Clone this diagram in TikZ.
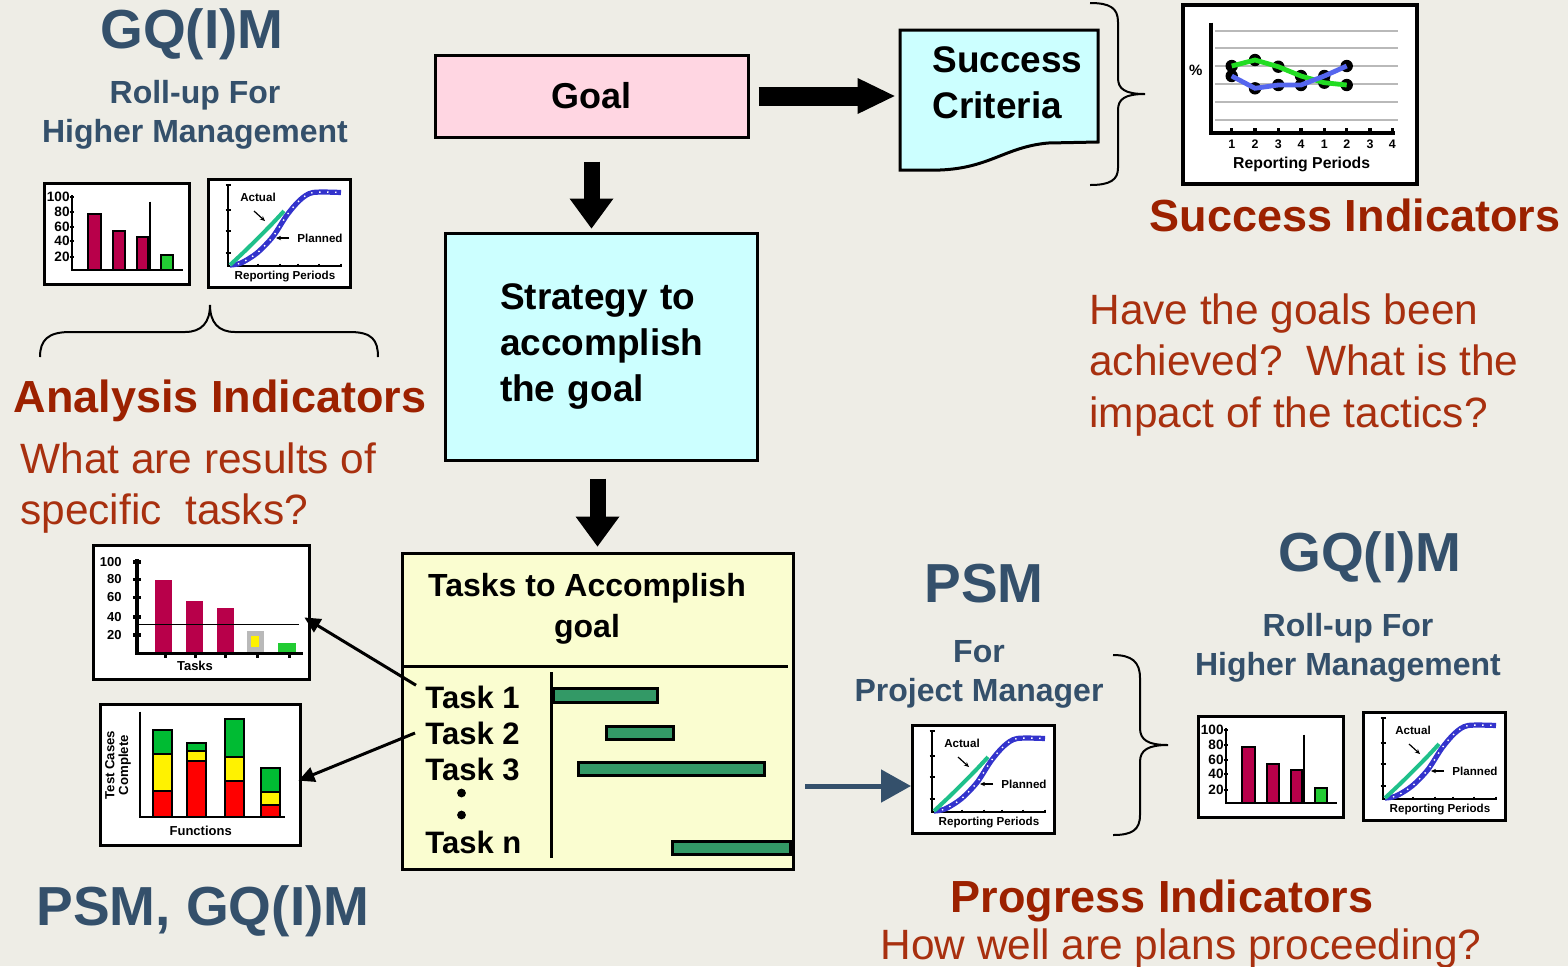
\documentclass[tikz,border=0pt]{standalone}
\usepackage{fontspec}
\setmainfont{Liberation Sans}
\usetikzlibrary{arrows.meta}
\definecolor{bgcol}{HTML}{EEEDE6}
\definecolor{titleblue}{HTML}{34506B}
\definecolor{indred}{HTML}{9C2100}
\definecolor{askred}{HTML}{A8300F}
\definecolor{goalpink}{HTML}{FFD6E2}
\definecolor{stratcyan}{HTML}{CCFFFF}
\definecolor{taskyellow}{HTML}{FAFDD0}
\definecolor{barcrimson}{HTML}{B8004A}
\definecolor{bargreen}{HTML}{22CC33}
\definecolor{stackgreen}{HTML}{00BB33}
\definecolor{gantgreen}{HTML}{339966}
\definecolor{actualgreen}{HTML}{1FC08A}
\definecolor{plannedblue}{HTML}{3333CC}
\definecolor{succgreen}{HTML}{22DD22}
\definecolor{succblue}{HTML}{5566EE}

\newcommand{\linechart}[2]{%
\begin{scope}[shift={#1}]
\node (#2) [chartbox, minimum width=71pt, minimum height=54pt] at (0,0) {};
\draw[chartaxis] (21,7) -- (21,88) -- (135,88);
\foreach \t in {7,32,53,75} \draw[chartaxis] (18.5,\t) -- (23.5,\t);
\foreach \t in {32,51,73,91,112,134} \draw[chartaxis] (\t,85.5) -- (\t,89);
\draw[planned] plot[smooth] coordinates {(23,87) (34,85) (50,75) (66,58.5) (80,37) (93,22) (106,14.5) (134,14.5)};
\draw[planneddots] plot[smooth] coordinates {(23,87) (34,85) (50,75) (66,58.5) (80,37) (93,22) (106,14.5) (134,14.5)};
\draw[actual] plot[smooth] coordinates {(23,87) (40,71) (63,48) (77,33)};
\node (#2act) [tinylabel] at (51,19) {Actual};
\draw[tinyarrow] (47,33) -- (58,43);
\node (#2plan) [tinylabel] at (113,60) {Planned};
\draw[tinyarrow] (82,60) -- (69,60);
\node (#2x) [tinylabel] at (78,99) {Reporting Periods};
\end{scope}}

\newcommand{\barchart}[2]{%
\begin{scope}[shift={#1}]
\node (#2) [chartbox, minimum width=72.5pt, minimum height=50.5pt] at (0,0) {};
\foreach \v/\t [count=\i] in {100/14.7,80/29.7,60/44.7,40/59,20/74.7} {
  \draw[chartaxis] (26.5,\t) -- (31,\t);
  \node (#2y\i) [tinynum] at (27,\t) {\v};
}
\draw[crimsonbar] (45.3,88) rectangle (57.7,32.3);
\draw[crimsonbar] (69.7,88) rectangle (82,49);
\draw[crimsonbar] (93.7,88) rectangle (105.3,55);
\draw[greenbar] (117.7,88) rectangle (130.3,73);
\draw[chartaxis] (107,19.7) -- (107,88);
\draw[chartaxis] (28.7,13) -- (28.7,88) -- (140,88);
\end{scope}}

\begin{document}
\begin{tikzpicture}[x=0.5pt,y=-0.5pt]
\tikzstyle{bigtitle} = [font=\fontsize{27.5}{30}\selectfont\bfseries, text=titleblue, inner sep=0, yshift=-2pt]
\tikzstyle{rollup} = [font=\fontsize{16}{19.5}\selectfont\bfseries, text=titleblue, align=center, inner sep=0, yshift=-2pt]
\tikzstyle{indicator} = [font=\fontsize{22.5}{25}\selectfont\bfseries, text=indred, inner sep=0, yshift=-2pt]
\tikzstyle{question} = [font=\fontsize{21.2}{25.8}\selectfont, text=askred, align=left, inner sep=0, yshift=-2pt]
\tikzstyle{goalbox} = [rectangle, draw=black, line width=1.5pt, fill=goalpink, minimum width=156.5pt, minimum height=41pt, font=\fontsize{18}{22}\selectfont\bfseries]
\tikzstyle{stratbox} = [rectangle, draw=black, line width=1.5pt, fill=stratcyan, minimum width=156pt, minimum height=113.5pt, text width=101pt, align=left, font=\fontsize{18.5}{23}\selectfont\bfseries]
\tikzstyle{critshape} = [draw=black, line width=1.5pt, fill=stratcyan]
\tikzstyle{critlabel} = [font=\fontsize{18.5}{23}\selectfont\bfseries, align=left, inner sep=0]
\tikzstyle{taskbox} = [rectangle, draw=black, line width=1.5pt, fill=taskyellow, minimum width=195.5pt, minimum height=158pt]
\tikzstyle{tasktitle} = [font=\fontsize{16}{20.5}\selectfont\bfseries, align=center, inner sep=0, yshift=-2pt]
\tikzstyle{tasklabel} = [font=\fontsize{15.5}{18}\selectfont\bfseries, inner sep=0, anchor=west]
\tikzstyle{divider} = [draw=black, line width=1.5pt]
\tikzstyle{ganttbar} = [draw=black, line width=1.5pt, fill=gantgreen]
\tikzstyle{chartbox} = [rectangle, draw=black, line width=1.6pt, fill=white, inner sep=0, anchor=north west]
\tikzstyle{chartaxis} = [draw=black, line width=1.2pt]
\tikzstyle{tinylabel} = [font=\fontsize{5.8}{6.5}\selectfont\bfseries, inner sep=0]
\tikzstyle{tinynum} = [font=\fontsize{6.8}{7}\selectfont\bfseries, inner sep=0, anchor=east]
\tikzstyle{crimsonbar} = [draw=black, line width=1pt, fill=barcrimson]
\tikzstyle{greenbar} = [draw=black, line width=1pt, fill=bargreen]
\tikzstyle{stackbar} = [draw=black, line width=1pt]
\tikzstyle{planned} = [draw=plannedblue, line width=2.6pt]
\tikzstyle{planneddots} = [draw=white, line width=0.7pt, dash pattern=on 0.7pt off 3.3pt]
\tikzstyle{actual} = [draw=actualgreen, line width=2pt]
\tikzstyle{tinyarrow} = [draw=black, line width=0.6pt, -{Stealth[length=2.5pt,width=2.2pt]}]
\tikzstyle{fatarrow} = [draw=black, line width=9.5pt, -{Triangle[length=18.5pt,width=18pt,line width=0pt]}]
\tikzstyle{fatdown} = [draw=black, line width=8pt, -{Triangle[length=15pt,width=22pt,line width=0pt]}]
\tikzstyle{taskarrow} = [draw=black, line width=1.5pt, -{Triangle[length=8pt,width=7.5pt]}]
\tikzstyle{pmarrow} = [draw=titleblue, line width=2.5pt, -{Triangle[length=15pt,width=16pt]}]
\tikzstyle{bracecurve} = [draw=black, line width=1pt]

\useasboundingbox (0,0) rectangle (1568,966);
\fill[bgcol] (0,0) rectangle (1568,966);

\node (gqimTL) [bigtitle] at (192,30) {GQ(I)M};
\node (rollupTL) [rollup] at (195,111) {Roll-up For\\Higher Management};
\barchart{(43,182)}{barTL}
\linechart{(207,178)}{lineTL}
\draw[bracecurve] (40,357) .. controls (40,340) and (48,332) .. (70,332) -- (185,332) .. controls (202,332) and (210,322) .. (210,305) .. controls (210,322) and (218,332) .. (235,332) -- (350,332) .. controls (372,332) and (378,340) .. (378,357);
\node (analysis) [indicator] at (220,397) {Analysis Indicators};
\node (analysisq) [question, anchor=west] at (20,484) {What are results of\\specific\ \ tasks?};

\node (goal) [goalbox] at (591.5,96) {Goal};
\node (crit) [minimum width=99pt, minimum height=70pt, inner sep=0] at (999,100) {};
\draw[critshape] (900,30) -- (1098,30) -- (1098,142) -- (1048,143) .. controls (1005,147) and (990,168) .. (940,170) -- (900,170) -- cycle;
\node (crittext) [critlabel, anchor=west] at (932,83) {Success\\Criteria};
\draw[bracecurve] (1090,3) .. controls (1110,3) and (1118,8) .. (1118,22) -- (1118,78) .. controls (1118,89) and (1125,94) .. (1145,94) .. controls (1125,94) and (1118,99) .. (1118,110) -- (1118,168) .. controls (1118,180) and (1110,185) .. (1090,185);

\begin{scope}[shift={(1181,3)}]
\node (succchart) [chartbox, line width=2pt, minimum width=117pt, minimum height=89.5pt] at (0,0) {};
\foreach \g in {27.7,45.3,63,81.3,98.7,117} \draw[gray!55, line width=0.9pt] (34,\g) -- (217,\g);
\foreach \x/\y in {50.7/63,74/57,97.3/63.7,120/73,143.3/79.7,165.7/82,50.7/73,74/85.3,97.3/82,120/82,143.3/73,165.7/63} \fill (\x,\y) circle[radius=3.1pt];
\draw[succgreen, line width=2.4pt] (50.7,63) -- (74,57) -- (97.3,63.7) -- (120,73) -- (143.3,79.7) -- (165.7,82);
\draw[succblue, line width=2.4pt] (50.7,73) -- (74,85.3) -- (97.3,82) -- (120,82) -- (143.3,73) -- (165.7,63);
\draw[chartaxis, line width=1.6pt] (30,19.7) -- (30,130) -- (214,130);
\foreach \x/\p [count=\i] in {50.7/1,74/2,97.3/3,120/4,143.3/1,165.7/2,189/3,211.3/4} {
  \draw[chartaxis, line width=1.6pt] (\x,125) -- (\x,130);
  \node (sx\i) [tinylabel, font=\fontsize{6.2}{7}\selectfont\bfseries] at (\x,141) {\p};
}
\node (spct) [tinylabel, font=\fontsize{7.5}{8}\selectfont\bfseries] at (14.7,67.7) {\%};
\node (sxlabel) [tinylabel, font=\fontsize{7.9}{9}\selectfont\bfseries] at (120.7,161) {Reporting Periods};
\end{scope}
\node (succind) [indicator] at (1355,211) {Success Indicators};
\node (succq) [question, anchor=west] at (1089,361) {Have the goals been\\achieved?\ \ What is the\\impact of the tactics?};

\node (strat) [stratbox] at (601,346.5) {Strategy to\\accomplish\\the goal};

\node (tasks) [taskbox] at (597.5,711) {};
\node (taskstitle) [tasktitle] at (587,605) {Tasks to Accomplish\\goal};
\draw[divider] (402,666) -- (788,666);
\draw[divider] (551.5,672) -- (551.5,858);
\node (t1) [tasklabel] at (425,697) {Task 1};
\node (t2) [tasklabel] at (425,733) {Task 2};
\node (t3) [tasklabel] at (425,769) {Task 3};
\node (tn) [tasklabel] at (425,842) {Task n};
\fill (461.5,793) circle[radius=2.2pt];
\fill (461.5,815) circle[radius=2.2pt];
\draw[ganttbar] (553,688) rectangle (657,702);
\draw[ganttbar] (606,726) rectangle (673,739);
\draw[ganttbar] (578,762) rectangle (764,775);
\draw[ganttbar] (672,841) rectangle (790,854);

\begin{scope}[shift={(92,544)}]
\node (taskchart) [chartbox, minimum width=108pt, minimum height=67pt] at (0,0) {};
\fill[barcrimson] (63,109.3) rectangle (80.3,36);
\fill[barcrimson] (94,109.3) rectangle (111.3,56.7);
\fill[barcrimson] (124.7,109.3) rectangle (142,64.3);
\fill[gray!55] (154.7,109.3) rectangle (172,87);
\fill[yellow] (159,92) rectangle (167.3,103.3);
\fill[bargreen] (186.3,109.3) rectangle (203.7,98.7);
\draw[black, line width=0.8pt] (45.7,80.3) -- (207,80.3);
\draw[chartaxis, line width=1.8pt] (44.7,15.3) -- (44.7,109.3) -- (211.3,109.3);
\foreach \v/\t [count=\i] in {100/17.7,80/35.3,60/53.3,40/72.7,20/91} {
  \draw[chartaxis, line width=1.8pt] (41,\t) -- (48.5,\t);
  \node (tcy\i) [tinynum, font=\fontsize{6.5}{7}\selectfont\bfseries] at (30,\t) {\v};
}
\foreach \x in {73,103,133.7,165.7,197} \draw[chartaxis, line width=1.5pt] (\x,109.3) -- (\x,113.5);
\node (tcx) [tinylabel, font=\fontsize{6.5}{7}\selectfont\bfseries] at (103,122) {Tasks};
\end{scope}

\begin{scope}[shift={(99,703)}]
\node (funcchart) [chartbox, minimum width=100pt, minimum height=70.5pt] at (0,0) {};
\foreach \x/\g/\y/\r in {54.3/27/51.3/87.7,87.7/39.7/48/57.7,126/16/53.7/77.7,162/65.3/88.7/102} {
  \draw[stackbar, fill=stackgreen] (\x,\g) rectangle (\x+19,\y);
  \draw[stackbar, fill=yellow] (\x,\y) rectangle (\x+19,\r);
  \draw[stackbar, fill=red] (\x,\r) rectangle (\x+19,113.7);
}
\draw[chartaxis, line width=1pt] (41,8.7) -- (41,114.3) -- (186,114.3);
\node (fcy) [tinylabel, font=\fontsize{6.6}{6.8}\selectfont\bfseries, rotate=90, align=center] at (19,62) {Test Cases\\Complete};
\node (fcx) [tinylabel, font=\fontsize{6.5}{7}\selectfont\bfseries] at (101.7,127.7) {Functions};
\end{scope}

\node (psmgq) [bigtitle] at (203,907) {PSM, GQ(I)M};
\node (psm) [bigtitle] at (984,580) {PSM};
\node (forpm) [rollup] at (979,670) {For\\Project Manager};
\linechart{(911,724)}{progchart}
\coordinate (pmstart) at (805,786);
\draw[bracecurve] (1113,655) .. controls (1132,655) and (1140,662) .. (1140,678) -- (1140,728) .. controls (1140,740) and (1148,745) .. (1168,745) .. controls (1148,745) and (1140,750) .. (1140,762) -- (1140,815) .. controls (1140,830) and (1132,835) .. (1113,835);
\node (gqimBR) [bigtitle] at (1370,553) {GQ(I)M};
\node (rollupBR) [rollup] at (1348,644) {Roll-up For\\Higher Management};
\barchart{(1197,715)}{barBR}
\linechart{(1362,711)}{lineBR}
\node (progind) [indicator] at (1162,897) {Progress Indicators};
\node (progq) [question] at (1181,945) {How well are plans proceeding?};

\draw[fatarrow, shorten <=4.5pt, shorten >=2.5pt] (goal.east) -- (goal.east -| crit.west);
\draw[fatdown, shorten <=11.5pt, shorten >=1.5pt] (goal.south) -- (goal.south |- strat.north);
\draw[fatdown, shorten <=8.5pt, shorten >=2.5pt] (tasks.north |- strat.south) -- (tasks.north);
\draw[taskarrow, shorten >=-4pt] ([xshift=-4.5pt]t1.north west) -- ([yshift=-4.5pt]taskchart.east);
\draw[taskarrow, shorten >=-2pt] ([xshift=-5pt]t2.west) -- ([yshift=-2pt]funcchart.east);
\draw[pmarrow] (pmstart) -- (pmstart -| progchart.west);
\end{tikzpicture}
\end{document}
